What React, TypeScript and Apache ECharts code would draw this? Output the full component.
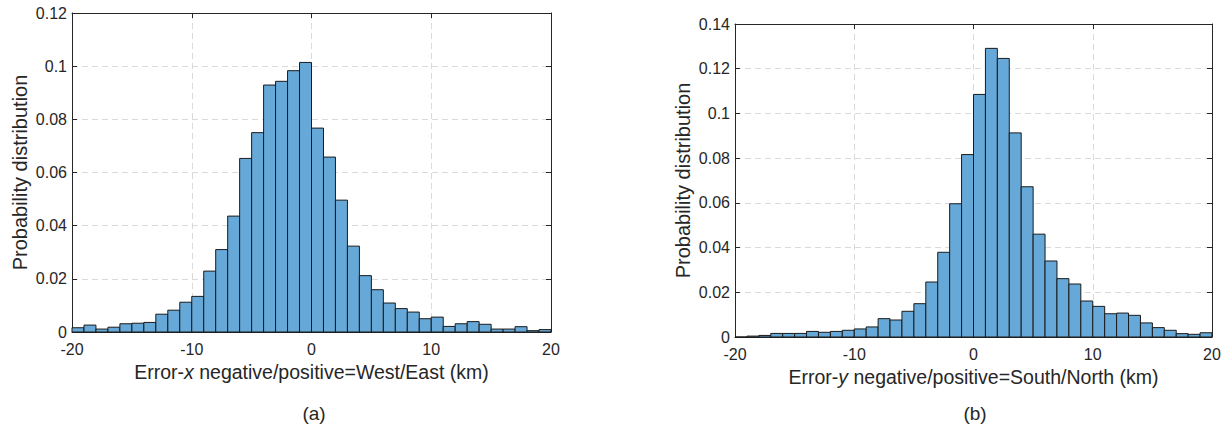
import React, { useEffect, useRef } from "react";
import * as echarts from "echarts";

// Bin left edges (km), bin width 1 km
const binStarts = [-20, -19, -18, -17, -16, -15, -14, -13, -12, -11, -10, -9, -8, -7, -6, -5, -4, -3, -2, -1,
  0, 1, 2, 3, 4, 5, 6, 7, 8, 9, 10, 11, 12, 13, 14, 15, 16, 17, 18, 19];
const binWidth = 1;

// (a) Error-x, West/East
const errorX = [0.0016, 0.0026, 0.0011, 0.0018, 0.0031, 0.0033, 0.0036, 0.0067, 0.0082, 0.0112,
  0.0134, 0.0229, 0.0310, 0.0436, 0.0653, 0.0750, 0.0929, 0.0943, 0.0983, 0.1014,
  0.0767, 0.0658, 0.0496, 0.0323, 0.0212, 0.0159, 0.0109, 0.0088, 0.0075, 0.0050,
  0.0056, 0.0021, 0.0031, 0.0039, 0.0029, 0.0011, 0.0011, 0.0020, 0.0005, 0.0009];

// (b) Error-y, South/North
const errorY = [0.0000, 0.0004, 0.0007, 0.0016, 0.0016, 0.0016, 0.0025, 0.0021, 0.0025, 0.0030,
  0.0036, 0.0045, 0.0082, 0.0076, 0.0115, 0.0149, 0.0246, 0.0379, 0.0596, 0.0816,
  0.1085, 0.1291, 0.1246, 0.0913, 0.0672, 0.0460, 0.0340, 0.0261, 0.0237, 0.0161,
  0.0137, 0.0104, 0.0107, 0.0097, 0.0063, 0.0042, 0.0030, 0.0015, 0.0012, 0.0019];

const yMaxA = 0.12;
const yMaxB = 0.14;
const yStep = 0.02;
const xMin = -20;
const xMax = 20;
const xStep = 10;

const FONT = "'Liberation Sans', Arial, Helvetica, sans-serif";
const TEXT = "#262626";
const AXIS = "#262626";
const GRIDC = "#dadada";
const FILL = "#66a9d8";

export default function App() {
  const ref = useRef<HTMLDivElement>(null);

  useEffect(() => {
    document.body.style.margin = "0";
    if (!ref.current) return;
    const chart = echarts.init(ref.current, undefined, { renderer: "svg" });

    const grids = [
      { left: 72, top: 13, width: 479, height: 319 },
      { left: 735, top: 24, width: 477, height: 313 },
    ];

    const mkBottomX = (gi: number, name: string) => ({
      type: "value",
      gridIndex: gi,
      position: "bottom",
      min: xMin,
      max: xMax,
      interval: xStep,
      axisLine: { show: true, onZero: false, lineStyle: { color: AXIS, width: 1 } },
      axisTick: { show: true, inside: true, length: 5, lineStyle: { color: AXIS } },
      axisLabel: { show: true, color: TEXT, fontSize: 16, fontFamily: FONT, margin: 9 },
      splitLine: { show: true, lineStyle: { color: GRIDC, type: [6, 4], width: 1 } },
      name,
      nameLocation: "middle",
      nameGap: 24,
      nameTextStyle: {
        color: TEXT,
        fontSize: 19.5,
        fontFamily: FONT,
        rich: { i: { fontStyle: "italic", fontSize: 19.5, fontFamily: FONT, color: TEXT } },
      },
    });
    const mkTopX = (gi: number) => ({
      type: "value",
      gridIndex: gi,
      position: "top",
      min: xMin,
      max: xMax,
      interval: xStep,
      axisLine: { show: true, onZero: false, lineStyle: { color: AXIS, width: 1 } },
      axisTick: { show: true, inside: true, length: 5, lineStyle: { color: AXIS } },
      axisLabel: { show: false },
      splitLine: { show: false },
    });
    const mkLeftY = (gi: number, max: number) => ({
      type: "value",
      gridIndex: gi,
      position: "left",
      min: 0,
      max,
      interval: yStep,
      axisLine: { show: true, onZero: false, lineStyle: { color: AXIS, width: 1 } },
      axisTick: { show: true, inside: true, length: 5, lineStyle: { color: AXIS } },
      axisLabel: { show: true, color: TEXT, fontSize: 16, fontFamily: FONT, margin: 5 },
      splitLine: { show: true, lineStyle: { color: GRIDC, type: [6, 4], width: 1 } },
      name: "Probability distribution",
      nameLocation: "middle",
      nameGap: 42,
      nameTextStyle: { color: TEXT, fontSize: 20, fontFamily: FONT },
    });
    const mkRightY = (gi: number, max: number) => ({
      type: "value",
      gridIndex: gi,
      position: "right",
      min: 0,
      max,
      interval: yStep,
      axisLine: { show: true, onZero: false, lineStyle: { color: AXIS, width: 1 } },
      axisTick: { show: true, inside: true, length: 5, lineStyle: { color: AXIS } },
      axisLabel: { show: false },
      splitLine: { show: false },
    });

    const renderItem = (params: any, api: any) => {
      const lo = api.value(0);
      const hi = api.value(1);
      const v = api.value(2);
      const p0 = api.coord([lo, 0]);
      const p1 = api.coord([hi, v]);
      return {
        type: "rect",
        shape: { x: p0[0], y: p1[1], width: p1[0] - p0[0], height: p0[1] - p1[1] },
        style: { fill: FILL, stroke: "#1a1a1a", lineWidth: 1 },
      };
    };

    const dataA = binStarts.map((s, i) => [s, s + binWidth, errorX[i]]);
    const dataB = binStarts.map((s, i) => [s, s + binWidth, errorY[i]]);

    chart.setOption({
      animation: false,
      grid: grids.map((g) => ({ ...g, containLabel: false })),
      xAxis: [
        mkBottomX(0, "Error-{i|x} negative/positive=West/East (km)"),
        mkBottomX(1, "Error-{i|y} negative/positive=South/North (km)"),
        mkTopX(0),
        mkTopX(1),
      ],
      yAxis: [mkLeftY(0, yMaxA), mkLeftY(1, yMaxB), mkRightY(0, yMaxA), mkRightY(1, yMaxB)],
      series: [
        {
          type: "custom",
          xAxisIndex: 0,
          yAxisIndex: 0,
          renderItem,
          encode: { x: [0, 1], y: 2 },
          data: dataA,
          z: 3,
        },
        {
          type: "custom",
          xAxisIndex: 1,
          yAxisIndex: 1,
          renderItem,
          encode: { x: [0, 1], y: 2 },
          data: dataB,
          z: 3,
        },
      ],
      graphic: [
        {
          type: "text",
          x: 314,
          y: 413,
          style: { text: "(a)", fill: TEXT, fontSize: 19, fontFamily: FONT, textAlign: "center", textVerticalAlign: "middle" },
        },
        {
          type: "text",
          x: 975,
          y: 413,
          style: { text: "(b)", fill: TEXT, fontSize: 19, fontFamily: FONT, textAlign: "center", textVerticalAlign: "middle" },
        },
      ],
    });

    return () => chart.dispose();
  }, []);

  return <div ref={ref} style={{ width: 1230, height: 430 }} />;
}
